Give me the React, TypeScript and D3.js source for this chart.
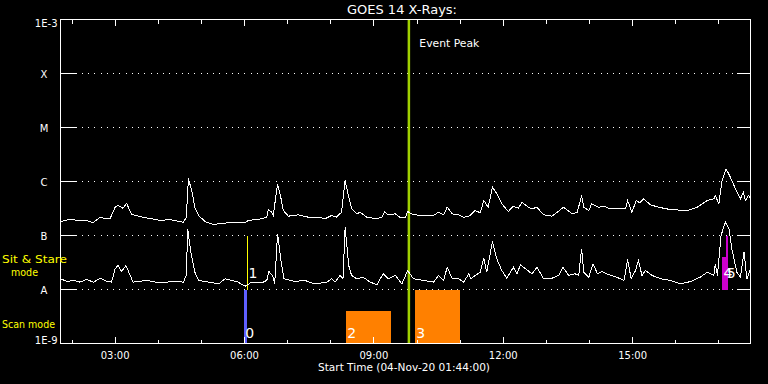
import React from "react";
import * as d3 from "d3";

// time in minutes since midnight, flux in W/m^2
const START_MIN = 104; // 01:44
const END_MIN = 1064; // 17:44
const TITLE = "GOES 14 X-Rays:";
const X_LABEL = "Start Time (04-Nov-20 01:44:00)";
const majorTickHours = [3, 6, 9, 12, 15];
const majorTickLabels = ["03:00", "06:00", "09:00", "12:00", "15:00"];
const minorTickHours = [2, 4, 5, 7, 8, 10, 11, 13, 14, 16, 17];
const yLevels = [1e-3, 1e-4, 1e-5, 1e-6, 1e-7, 1e-8, 1e-9];
const yLabels = ["1E-3", "X", "M", "C", "B", "A", "1E-9"];
const gridLevels = [1e-4, 1e-5, 1e-6, 1e-7, 1e-8];

const longChannel: [number, number][] = [
  [104, 1.82e-7], [117, 1.98e-7], [131, 1.9e-7], [142, 1.86e-7], [149, 1.72e-7], [159, 2.18e-7],
  [166, 2.06e-7], [173, 2.06e-7], [180, 3.34e-7], [184, 3.59e-7], [191, 3.2e-7], [196, 3.91e-7],
  [203, 2.45e-7], [219, 2.18e-7], [243, 1.9e-7], [256, 1.98e-7], [275, 1.76e-7], [279, 2.18e-7],
  [282, 1.14e-6], [287, 6.34e-7], [291, 3.3e-7], [296, 2.35e-7], [305, 1.82e-7], [317, 1.58e-7],
  [324, 1.65e-7], [338, 1.72e-7], [351, 1.76e-7], [361, 1.72e-7], [365, 1.9e-7], [384, 2.04e-7],
  [391, 2.18e-7], [393, 3.03e-7], [398, 2.7e-7], [400, 2.35e-7], [406, 9.05e-7], [410, 5.51e-7],
  [414, 2.9e-7], [421, 2.28e-7], [435, 2.42e-7], [449, 2.18e-7], [463, 2.18e-7], [472, 2.04e-7],
  [481, 2.35e-7], [488, 2.18e-7], [495, 2.7e-7], [500, 1.04e-6], [505, 5.12e-7], [509, 3.12e-7],
  [516, 2.52e-7], [521, 2.7e-7], [530, 2.18e-7], [544, 2.04e-7], [551, 2.18e-7], [555, 2.7e-7],
  [560, 2.42e-7], [570, 2.52e-7], [576, 2.18e-7], [584, 2.18e-7], [587, 2.78e-7], [595, 2.42e-7],
  [609, 2.35e-7], [623, 2.35e-7], [630, 2.7e-7], [637, 2.42e-7], [642, 3.34e-7], [649, 2.52e-7],
  [658, 2.42e-7], [665, 2.18e-7], [672, 2.25e-7], [681, 2.9e-7], [688, 2.63e-7], [693, 4.45e-7],
  [699, 3.34e-7], [705, 7.84e-7], [711, 5.93e-7], [718, 3.86e-7], [727, 2.78e-7], [734, 3.49e-7],
  [741, 3.2e-7], [746, 4.14e-7], [755, 3.34e-7], [760, 3.12e-7], [767, 3.34e-7], [776, 2.42e-7],
  [788, 2.28e-7], [795, 2.7e-7], [804, 3.34e-7], [816, 2.52e-7], [823, 2.7e-7], [829, 5.51e-7],
  [832, 3.34e-7], [839, 2.9e-7], [843, 3.86e-7], [853, 3.34e-7], [860, 3.49e-7], [869, 3.12e-7],
  [890, 3.12e-7], [893, 4.45e-7], [899, 2.7e-7], [905, 4.45e-7], [910, 4.03e-7], [915, 4.78e-7],
  [925, 3.7e-7], [936, 3.34e-7], [952, 3.03e-7], [976, 2.9e-7], [990, 3.34e-7], [1004, 4.45e-7],
  [1013, 4.78e-7], [1015, 5.51e-7], [1020, 3.86e-7], [1024, 9.7e-7], [1030, 1.72e-6], [1036, 1.2e-6],
  [1043, 7.33e-7], [1050, 4.78e-7], [1054, 6.34e-7], [1057, 4.45e-7], [1061, 5.51e-7], [1064, 4.9e-7],
];

const shortChannel: [number, number][] = [
  [104, 1.58e-8], [113, 1.41e-8], [122, 1.47e-8], [131, 1.37e-8], [140, 1.53e-8], [150, 1.37e-8],
  [159, 1.62e-8], [168, 1.41e-8], [175, 1.37e-8], [180, 2.42e-8], [184, 2.78e-8], [189, 2.15e-8],
  [195, 2.78e-8], [201, 1.82e-8], [205, 1.37e-8], [224, 1.47e-8], [242, 1.33e-8], [261, 1.41e-8],
  [275, 1.37e-8], [279, 1.82e-8], [281, 1.33e-7], [285, 5.27e-8], [289, 2.78e-8], [291, 2.09e-8],
  [296, 1.47e-8], [310, 1.37e-8], [324, 1.27e-8], [333, 1.58e-8], [342, 1.47e-8], [351, 1.37e-8],
  [361, 1.15e-8], [370, 1.37e-8], [384, 1.33e-8], [391, 1.47e-8], [394, 2.15e-8], [399, 1.82e-8],
  [402, 1.27e-8], [406, 1.075e-7], [411, 3.2e-8], [415, 1.58e-8], [430, 1.41e-8], [444, 1.47e-8],
  [458, 1.27e-8], [475, 1.37e-8], [481, 1.58e-8], [486, 1.37e-8], [493, 1.82e-8], [497, 1.58e-8],
  [500, 1.42e-7], [505, 2.78e-8], [509, 1.82e-8], [516, 1.58e-8], [525, 1.69e-8], [535, 1.37e-8],
  [544, 1.22e-8], [553, 1.95e-8], [560, 1.58e-8], [570, 1.82e-8], [579, 1.27e-8], [587, 2.25e-8],
  [595, 1.58e-8], [609, 1.47e-8], [623, 1.37e-8], [630, 1.82e-8], [637, 1.47e-8], [642, 2.59e-8],
  [649, 1.58e-8], [658, 1.58e-8], [665, 1.37e-8], [672, 1.95e-8], [675, 1.58e-8], [681, 1.82e-8],
  [688, 2.09e-8], [693, 3.8e-8], [697, 2.09e-8], [705, 7.74e-8], [711, 3.7e-8], [718, 2.25e-8],
  [725, 1.62e-8], [734, 2.59e-8], [739, 1.95e-8], [744, 2.87e-8], [751, 2.42e-8], [760, 1.95e-8],
  [767, 2.59e-8], [776, 1.58e-8], [788, 1.62e-8], [797, 1.82e-8], [803, 2.59e-8], [811, 1.82e-8],
  [820, 1.95e-8], [825, 1.82e-8], [829, 5.67e-8], [832, 2.09e-8], [839, 1.69e-8], [845, 2.99e-8],
  [851, 1.95e-8], [857, 2.15e-8], [864, 1.95e-8], [878, 1.69e-8], [888, 1.47e-8], [893, 3.59e-8],
  [898, 1.58e-8], [904, 2.25e-8], [908, 3.44e-8], [913, 1.82e-8], [918, 2.25e-8], [927, 1.82e-8],
  [939, 1.58e-8], [953, 1.47e-8], [967, 1.27e-8], [981, 1.41e-8], [994, 1.69e-8], [1004, 2.09e-8],
  [1013, 1.82e-8], [1015, 2.99e-8], [1018, 1.82e-8], [1023, 1.0e-7], [1029, 1.76e-7], [1034, 1.33e-7],
  [1038, 5.67e-8], [1045, 2.09e-8], [1050, 1.69e-8], [1055, 4.9e-8], [1059, 1.58e-8], [1064, 2.42e-8],
];

// observation blocks: id, start, end (minutes), low/high flux, colour, mode
const blockIds = ["0", "1", "2", "3", "4", "5"];
const blockStart = [359.5, 364, 501.5, 597.5, 1025, 1029.5];
const blockEnd = [363.6, 364, 564, 660, 1033.3, 1033.3];
const blockLow = [1e-9, 1e-8, 1e-9, 1e-9, 1e-8, 1e-8];
const blockHigh = [1e-8, 1e-7, 4.08e-9, 1e-8, 4.08e-8, 1e-7];
const blockColors = ["#5f5fff", "#ffff00", "#ff8000", "#ff8000", "#cc00cc", "#cc00cc"];
const blockMode = ["scan", "sit", "scan", "scan", "sit", "sit"];

const EVENT_PEAK = 588.7;
const EVENT_LABEL = "Event Peak";

const FONT = "DejaVu Sans";

export default function App() {
  const x = d3.scaleLinear().domain([START_MIN, END_MIN]).range([60.5, 750.5]);
  const y = d3.scaleLog().domain([1e-9, 1e-3]).range([343.5, 19.5]);
  const line = d3
    .line<[number, number]>()
    .x((d) => x(d[0]))
    .y((d) => y(d[1]));
  const left = x(START_MIN);
  const right = x(END_MIN);
  const top = y(1e-3);
  const bottom = y(1e-9);

  return (
    <svg
      width={768}
      height={384}
      style={{ position: "absolute", left: 0, top: 0, background: "#000" }}
      fontFamily={FONT}
    >
      <rect x={0} y={0} width={768} height={384} fill="#000" />
      {/* dotted grid */}
      {gridLevels.map((v, i) => (
        <g key={"g" + i} shapeRendering="crispEdges">
          <line x1={left + 15} x2={right - 14} y1={y(v)} y2={y(v)} stroke="#fff" strokeDasharray="1 5.25" />
          <line x1={left} x2={left + 15} y1={y(v)} y2={y(v)} stroke="#fff" />
          <line x1={right - 14} x2={right} y1={y(v)} y2={y(v)} stroke="#fff" />
        </g>
      ))}
      {/* blocks */}
      {blockIds.map((id, i) => {
        const x0 = x(blockStart[i]);
        const x1 = x(blockEnd[i]);
        const w = Math.max(1, x1 - x0);
        return (
          <rect
            key={"b" + id}
            x={x0}
            width={w}
            y={y(blockHigh[i])}
            height={y(blockLow[i]) - y(blockHigh[i])}
            fill={blockColors[i]}
            shapeRendering="crispEdges"
          />
        );
      })}
      {/* event peak */}
      <line x1={x(EVENT_PEAK)} x2={x(EVENT_PEAK)} y1={top} y2={bottom} stroke="#a0d000" strokeWidth={2.5} />
      <text x={x(EVENT_PEAK) + 10.5} y={46.5} fill="#fff" fontSize={10.5} textLength={60} lengthAdjust="spacingAndGlyphs">
        {EVENT_LABEL}
      </text>
      {/* curves */}
      <path d={line(longChannel) || ""} fill="none" stroke="#fff" strokeWidth={1} shapeRendering="crispEdges" />
      <path d={line(shortChannel) || ""} fill="none" stroke="#fff" strokeWidth={1} shapeRendering="crispEdges" />
      {/* block labels */}
      {blockIds.map((id, i) => (
        <text
          key={"l" + id}
          x={x(blockStart[i]) + 1}
          y={blockMode[i] === "scan" ? y(1e-9) - 5.5 : y(1e-8) - 11.5}
          fill="#fff"
          fontSize={14}
        >
          {id}
        </text>
      ))}
      {/* frame */}
      <rect x={left} y={top} width={right - left} height={bottom - top} fill="none" stroke="#fff" shapeRendering="crispEdges" />
      {/* x ticks */}
      <g stroke="#fff" shapeRendering="crispEdges">
        {majorTickHours.map((h) => (
          <g key={"M" + h}>
            <line x1={x(h * 60)} x2={x(h * 60)} y1={bottom} y2={bottom - 6.5} />
            <line x1={x(h * 60)} x2={x(h * 60)} y1={top} y2={top + 6.5} />
          </g>
        ))}
        {minorTickHours.map((h) => (
          <g key={"m" + h}>
            <line x1={x(h * 60)} x2={x(h * 60)} y1={bottom} y2={bottom - 4} />
            <line x1={x(h * 60)} x2={x(h * 60)} y1={top} y2={top + 4} />
          </g>
        ))}
      </g>
      {majorTickLabels.map((t, i) => (
        <text key={t} x={x(majorTickHours[i] * 60)} y={359} fill="#fff" fontSize={10} textAnchor="middle">
          {t}
        </text>
      ))}
      {/* y labels */}
      {yLabels.map((t, i) => {
        const isNum = t.startsWith("1E");
        let yy = y(yLevels[i]) + 4;
        if (i === 0) yy = y(yLevels[i]) + 7.5;
        if (i === yLabels.length - 1) yy = y(yLevels[i]);
        return (
          <text
            key={t}
            x={isNum ? 57.5 : 44}
            y={yy}
            fill="#fff"
            fontSize={10}
            textAnchor={isNum ? "end" : "middle"}
          >
            {t}
          </text>
        );
      })}
      {/* mode labels */}
      <text x={2} y={262.5} fill="#ffff00" fontSize={11} textLength={65} lengthAdjust="spacingAndGlyphs">Sit &amp; Stare</text>
      <text x={11} y={275.5} fill="#ffff00" fontSize={11} textLength={27} lengthAdjust="spacingAndGlyphs">mode</text>
      <text x={2} y={327.5} fill="#ffff00" fontSize={11} textLength={53} lengthAdjust="spacingAndGlyphs">Scan mode</text>
      {/* title & axis label */}
      <text x={347} y={13.5} fill="#fff" fontSize={11.5} textLength={110} lengthAdjust="spacingAndGlyphs">
        {TITLE}
      </text>
      <text x={318} y={371} fill="#fff" fontSize={10} textLength={172} lengthAdjust="spacingAndGlyphs">
        {X_LABEL}
      </text>
    </svg>
  );
}
